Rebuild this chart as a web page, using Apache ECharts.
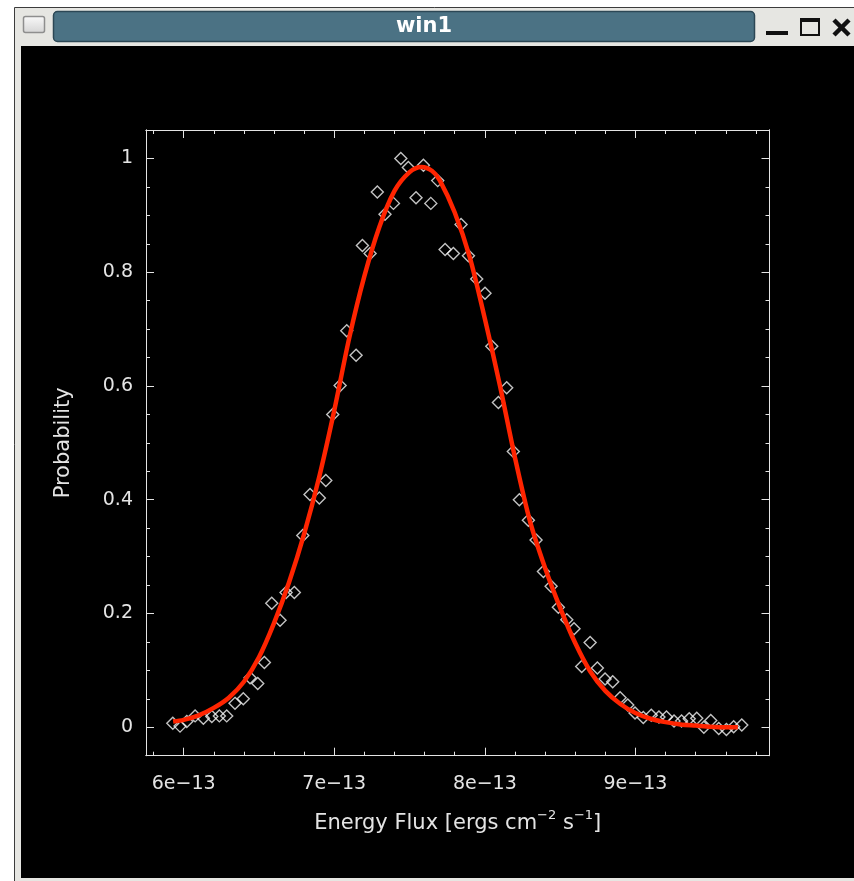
<!DOCTYPE html>
<html>
<head>
<meta charset="utf-8">
<script src="https://cdn.jsdelivr.net/npm/echarts@6/dist/echarts.min.js"></script>
<style>
  html, body { margin: 0; padding: 0; background: #ffffff; }
  #chart { width: 854px; height: 881px; }
</style>
</head>
<body>
<div id="chart"></div>
<script>
// Binned flux samples [ergs cm^-2 s^-1] and their normalised probability
const fluxSamples = [
  5.928e-13, 5.976e-13, 6.021e-13, 6.076e-13, 6.131e-13, 6.187e-13, 6.237e-13, 6.286e-13, 6.341e-13, 6.396e-13,
  6.441e-13, 6.492e-13, 6.536e-13, 6.585e-13, 6.640e-13, 6.680e-13, 6.735e-13, 6.791e-13, 6.839e-13, 6.901e-13,
  6.944e-13, 6.990e-13, 7.039e-13, 7.083e-13, 7.145e-13, 7.187e-13, 7.238e-13, 7.286e-13, 7.337e-13, 7.393e-13,
  7.442e-13, 7.492e-13, 7.543e-13, 7.592e-13, 7.641e-13, 7.687e-13, 7.736e-13, 7.791e-13, 7.842e-13, 7.891e-13,
  7.946e-13, 8.001e-13, 8.046e-13, 8.090e-13, 8.145e-13, 8.189e-13, 8.229e-13, 8.289e-13, 8.340e-13, 8.389e-13,
  8.440e-13, 8.488e-13, 8.544e-13, 8.592e-13, 8.643e-13, 8.699e-13, 8.747e-13, 8.798e-13, 8.849e-13, 8.898e-13,
  8.949e-13, 8.997e-13, 9.052e-13, 9.105e-13, 9.156e-13, 9.206e-13, 9.256e-13, 9.306e-13, 9.357e-13, 9.407e-13,
  9.454e-13, 9.500e-13, 9.553e-13, 9.604e-13, 9.652e-13, 9.706e-13
];
const probSamples = [
  0.007, 0.002, 0.010, 0.020, 0.016, 0.019, 0.020, 0.020, 0.042, 0.050,
  0.087, 0.077, 0.114, 0.218, 0.188, 0.237, 0.237, 0.337, 0.409, 0.403,
  0.434, 0.550, 0.601, 0.697, 0.654, 0.847, 0.833, 0.941, 0.902, 0.921,
  1.000, 0.984, 0.931, 0.988, 0.921, 0.961, 0.840, 0.833, 0.884, 0.829,
  0.788, 0.763, 0.670, 0.571, 0.597, 0.485, 0.400, 0.364, 0.329, 0.274,
  0.248, 0.211, 0.189, 0.173, 0.107, 0.149, 0.104, 0.085, 0.080, 0.052,
  0.039, 0.025, 0.017, 0.021, 0.018, 0.018, 0.011, 0.011, 0.015, 0.016,
  0.000, 0.012, -0.002, -0.004, 0.001, 0.004
];

// Fitted profile through the samples
const fitFlux = [
  5.93e-13, 6.00e-13, 6.10e-13, 6.20e-13, 6.30e-13, 6.40e-13, 6.50e-13, 6.60e-13, 6.70e-13, 6.80e-13,
  6.90e-13, 7.00e-13, 7.10e-13, 7.20e-13, 7.30e-13, 7.40e-13, 7.50e-13, 7.58e-13, 7.65e-13, 7.70e-13,
  7.80e-13, 7.90e-13, 8.00e-13, 8.10e-13, 8.20e-13, 8.30e-13, 8.40e-13, 8.50e-13, 8.60e-13, 8.70e-13,
  8.80e-13, 8.90e-13, 9.00e-13, 9.10e-13, 9.20e-13, 9.30e-13, 9.40e-13, 9.50e-13, 9.60e-13, 9.68e-13
];
const fitProb = [
  0.010, 0.013, 0.021, 0.034, 0.052, 0.080, 0.123, 0.183, 0.255, 0.340,
  0.440, 0.557, 0.685, 0.793, 0.880, 0.943, 0.976, 0.985, 0.978, 0.962,
  0.905, 0.826, 0.718, 0.601, 0.474, 0.362, 0.280, 0.210, 0.148, 0.098,
  0.064, 0.041, 0.025, 0.015, 0.009, 0.005, 0.003, 0.001, 0.000, 0.000
];

// Tick positions
const xMajorTicks = [6e-13, 7e-13, 8e-13, 9e-13];
const xMinorTicks = [5.8e-13, 6.2e-13, 6.4e-13, 6.6e-13, 6.8e-13, 7.2e-13, 7.4e-13, 7.6e-13, 7.8e-13,
                     8.2e-13, 8.4e-13, 8.6e-13, 8.8e-13, 9.2e-13, 9.4e-13, 9.6e-13, 9.8e-13];
const yMajorTicks = [0, 0.2, 0.4, 0.6, 0.8, 1];
const yMinorTicks = [0.05, 0.1, 0.15, 0.25, 0.3, 0.35, 0.45, 0.5, 0.55, 0.65, 0.7, 0.75, 0.85, 0.9, 0.95];

const X_MIN = 5.75e-13, X_MAX = 9.89e-13;
const Y_MIN = -0.05, Y_MAX = 1.05;
const AXIS_COLOR = '#e4e4e4';
const FONT = 'DejaVu Sans';

function xAxisDef(pos, ticks, len, withLabels) {
  return {
    type: 'value', position: pos, min: X_MIN, max: X_MAX, offset: 0,
    axisLine: { show: true, onZero: false, lineStyle: { color: AXIS_COLOR, width: 1 } },
    axisTick: { show: true, inside: true, length: len, customValues: ticks,
                lineStyle: { color: AXIS_COLOR, width: 1 } },
    axisLabel: withLabels ? {
      show: true, customValues: ticks, margin: 19, color: AXIS_COLOR,
      fontFamily: FONT, fontSize: 19,
      formatter: v => Math.round(v * 1e13) + 'e\u221213'
    } : { show: false },
    splitLine: { show: false }
  };
}
function yAxisDef(pos, ticks, len, withLabels) {
  return {
    type: 'value', position: pos, min: Y_MIN, max: Y_MAX, offset: 0,
    axisLine: { show: true, onZero: false, lineStyle: { color: AXIS_COLOR, width: 1 } },
    axisTick: { show: true, inside: true, length: len, customValues: ticks,
                lineStyle: { color: AXIS_COLOR, width: 1 } },
    axisLabel: withLabels ? {
      show: true, customValues: ticks, margin: 13, color: AXIS_COLOR,
      fontFamily: FONT, fontSize: 19,
      formatter: v => String(Math.round(v * 10) / 10)
    } : { show: false },
    splitLine: { show: false }
  };
}

const xBottom = xAxisDef('bottom', xMajorTicks, 8, true);
xBottom.name = 'Energy Flux [ergs cm{sup|\u22122} s{sup|\u22121}]';
xBottom.nameLocation = 'middle';
xBottom.nameGap = 53;
xBottom.nameTextStyle = {
  color: AXIS_COLOR, fontFamily: FONT, fontSize: 21, lineHeight: 30,
  rich: { sup: { color: AXIS_COLOR, fontFamily: FONT, fontSize: 13, lineHeight: 13, verticalAlign: 'top' } }
};

const yLeft = yAxisDef('left', yMajorTicks, 8, true);
yLeft.name = 'Probability';
yLeft.nameLocation = 'middle';
yLeft.nameGap = 72;
yLeft.nameTextStyle = { color: AXIS_COLOR, fontFamily: FONT, fontSize: 21 };

// Window chrome around the plot
const chrome = [
  { type: 'rect', z: -10, silent: true, shape: { x: 14.5, y: 7.5, width: 845, height: 880 },
    style: { fill: '#e6e6e2', stroke: '#3c3c3c', lineWidth: 1 } },
  { type: 'rect', z: -9, silent: true, shape: { x: 21, y: 46, width: 840, height: 832 },
    style: { fill: '#000000' } },
  { type: 'rect', z: -9, silent: true, shape: { x: 23.5, y: 16.5, width: 21, height: 16, r: 2 },
    style: { fill: new echarts.graphic.LinearGradient(0, 0, 0, 1,
      [{ offset: 0, color: '#fafafa' }, { offset: 1, color: '#d4d4d4' }]),
      stroke: '#8e8e8e', lineWidth: 1.5 } },
  { type: 'rect', z: -9, silent: true, shape: { x: 53.5, y: 11.5, width: 701, height: 30, r: 4 },
    style: { fill: '#4b7284', stroke: '#2c4755', lineWidth: 1.5 } },
  { type: 'text', z: -8, silent: true, x: 424, y: 27,
    style: { text: 'win1', fill: '#ffffff', font: 'bold 21px "DejaVu Sans"',
             align: 'center', verticalAlign: 'middle' } },
  { type: 'rect', z: -8, silent: true, shape: { x: 766, y: 31, width: 22, height: 4 },
    style: { fill: '#111111' } },
  { type: 'rect', z: -8, silent: true, shape: { x: 801, y: 19, width: 18, height: 16 },
    style: { fill: 'none', stroke: '#111111', lineWidth: 2 } },
  { type: 'rect', z: -8, silent: true, shape: { x: 800, y: 18, width: 20, height: 4 },
    style: { fill: '#111111' } },
  { type: 'line', z: -8, silent: true, shape: { x1: 834, y1: 20, x2: 849, y2: 35 },
    style: { stroke: '#111111', lineWidth: 4.5 } },
  { type: 'line', z: -8, silent: true, shape: { x1: 849, y1: 20, x2: 834, y2: 35 },
    style: { stroke: '#111111', lineWidth: 4.5 } }
];

const chart = echarts.init(document.getElementById('chart'), null, { renderer: 'canvas' });
chart.setOption({
  animation: false,
  graphic: { elements: chrome },
  grid: { left: 146, top: 130, right: 84.5, bottom: 125.3, containLabel: false },
  xAxis: [
    xBottom,
    xAxisDef('bottom', xMinorTicks, 4, false),
    xAxisDef('top', xMajorTicks, 8, false),
    xAxisDef('top', xMinorTicks, 4, false)
  ],
  yAxis: [
    yLeft,
    yAxisDef('left', yMinorTicks, 4, false),
    yAxisDef('right', yMajorTicks, 8, false),
    yAxisDef('right', yMinorTicks, 4, false)
  ],
  series: [
    {
      type: 'scatter', name: 'samples', xAxisIndex: 0, yAxisIndex: 0, z: 2,
      data: fluxSamples.map((f, i) => [f, probSamples[i]]),
      symbol: 'diamond', symbolSize: 12,
      itemStyle: { color: 'rgba(0,0,0,0)', borderColor: '#f4f4f4', borderWidth: 1.4 }
    },
    {
      type: 'line', name: 'fit', xAxisIndex: 0, yAxisIndex: 0, z: 3,
      data: fitFlux.map((f, i) => [f, fitProb[i]]),
      showSymbol: false, smooth: 0.3,
      lineStyle: { color: '#ff2400', width: 4.5 }
    }
  ]
});
</script>
</body>
</html>
